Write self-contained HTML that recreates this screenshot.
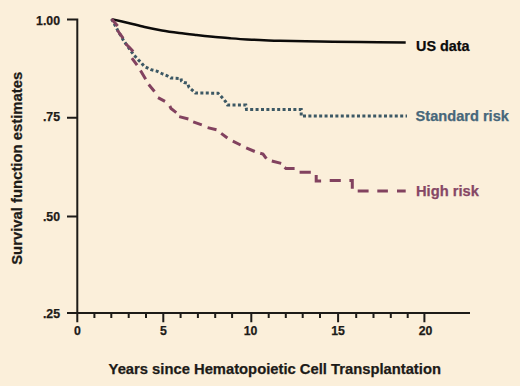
<!DOCTYPE html>
<html><head><meta charset="utf-8">
<style>
html,body{margin:0;padding:0;background:#fbefda;}
body{width:520px;height:386px;overflow:hidden;position:relative;}
svg{position:absolute;left:0;top:0;display:block;}
text{font-family:"Liberation Sans",sans-serif;font-weight:bold;}
</style></head><body>
<svg width="520" height="386" viewBox="0 0 520 386">
<rect x="0" y="0" width="520" height="386" fill="#fbefda"/>
<g stroke="#1d1b18" stroke-width="2" fill="none">
<path d="M77.3 18.4V322.3M67 19.4H78.3M67 117.7H77.3M67 216.5H77.3M67 313H470"/>
<path d="M163.3 313v9.3M251.3 313v9.3M338.1 313v9.3M424.4 313v9.3"/>
<path d="M94.4 313v5M111.3 313v5M128.7 313v5M146.0 313v5M180.6 313v5M197.9 313v5M215.2 313v5M232.1 313v5M268.7 313v5M285.8 313v5M302.7 313v5M320.0 313v5M356.2 313v5M373.5 313v5M390.8 313v5M407.7 313v5"/>
</g>
<g fill="#1d1b18" stroke="#1d1b18" stroke-width="0.25" font-size="12.3" text-anchor="end">
<text x="60" y="25.2">1.00</text>
<text x="60" y="121">.75</text>
<text x="60" y="221">.50</text>
<text x="60" y="318.3">.25</text>
</g>
<g fill="#1d1b18" stroke="#1d1b18" stroke-width="0.25" font-size="12.3" text-anchor="middle">
<text x="77.3" y="334.7">0</text>
<text x="163.5" y="334.7">5</text>
<text x="250.5" y="334.7">10</text>
<text x="338" y="334.7">15</text>
<text x="425.5" y="334.7">20</text>
</g>
<g fill="#1d1b18" stroke="#1d1b18" stroke-width="0.25" font-size="14.85">
<text x="108.6" y="373.5" font-size="14.78">Years since Hematopoietic Cell Transplantation</text>
<text transform="translate(21.9,264.8) rotate(-90)">Survival function estimates</text>
</g>
<path fill="none" stroke="#0c0b0a" stroke-width="2.5" d="M111.6 19.1 C114.2 19.7 121.8 21.4 127.3 22.7 C132.8 24.0 138.8 25.7 144.6 27.0 C150.4 28.3 156.1 29.4 161.9 30.4 C167.7 31.4 173.4 32.2 179.2 33.0 C185.0 33.8 190.9 34.4 196.5 35.0 C202.1 35.6 207.4 36.2 213.0 36.8 C218.6 37.3 224.3 37.9 230.0 38.3 C235.7 38.7 241.3 39.1 247.0 39.4 C252.7 39.7 258.5 40.0 264.0 40.2 C269.5 40.4 270.7 40.6 280.0 40.8 C289.3 41.0 306.7 41.4 320.0 41.6 C333.3 41.8 345.7 41.9 360.0 42.0 C374.3 42.1 398.1 42.4 405.7 42.5"/>
<path fill="none" stroke="#3c5864" stroke-width="3" stroke-dasharray="3 2.4" d="M111.6 19.0 L117.7 30.3 L123.9 41.1 L133.6 54.7 L138.6 60.1 L141.4 62.9 L144.0 66.2 L151.0 69.7 L156.8 71.1 L162.7 74.0 L167.3 75.8 L170.8 78.0 L181.0 78.5 L181.5 81.0 L184.0 82.6 L187.5 83.2 L189.0 87.4 L192.2 90.1 L195.3 93.0 L218.0 93.2 L220.6 95.8 L225.5 101.5 L227.5 104.9 L245.8 104.9 L246.5 109.5 L301.2 109.5 L301.2 116.1 L407.0 116.1"/>
<path fill="none" stroke="#82425f" stroke-width="3" d="M111.5 19.0 L117.7 25.9M117.3 30.0 L120.0 34.0 L123.2 38.3M125.4 43.5 L129.5 47.5 L133.2 51.5M131.9 58.2 L137.1 65.2M140.5 70.5 L145.7 79.2M148.7 84.5 L154.5 91.5M158.0 97.6 L165.0 101.4M169.8 106.0 L171.0 108.5 L176.3 112.6M179.2 116.6 L188.4 119.0M193.2 121.9 L201.8 124.8M207.6 127.6 L216.5 129.8M221.2 133.4 L227.4 138.0M232.8 141.2 L240.6 145.0M246.2 147.9 L254.8 151.5M260.2 153.3 L263.0 154.0 L266.4 158.7M271.8 161.0 L281.2 163.4M284.6 167.3 L286.0 168.6 L294.6 168.6M299.6 172.3 L310.8 172.3M316.2 175.1 L316.2 180.9 L321.1 180.9M329.7 180.6 L340.8 180.6M349.4 180.4 L352.3 180.4 L352.3 188.8M357.7 190.9 L368.6 190.9M377.3 190.9 L387.9 190.9M397.0 190.9 L405.7 190.9"/>
<g stroke-width="0.25">
<text x="416" y="50.8" font-size="14.4" fill="#0c0b0a" stroke="#0c0b0a">US data</text>
<text x="415.6" y="121" font-size="14.6" fill="#47677a" stroke="#47677a">Standard risk</text>
<text x="416" y="195.8" font-size="14.7" fill="#864765" stroke="#864765">High risk</text>
</g>
</svg>
</body></html>
